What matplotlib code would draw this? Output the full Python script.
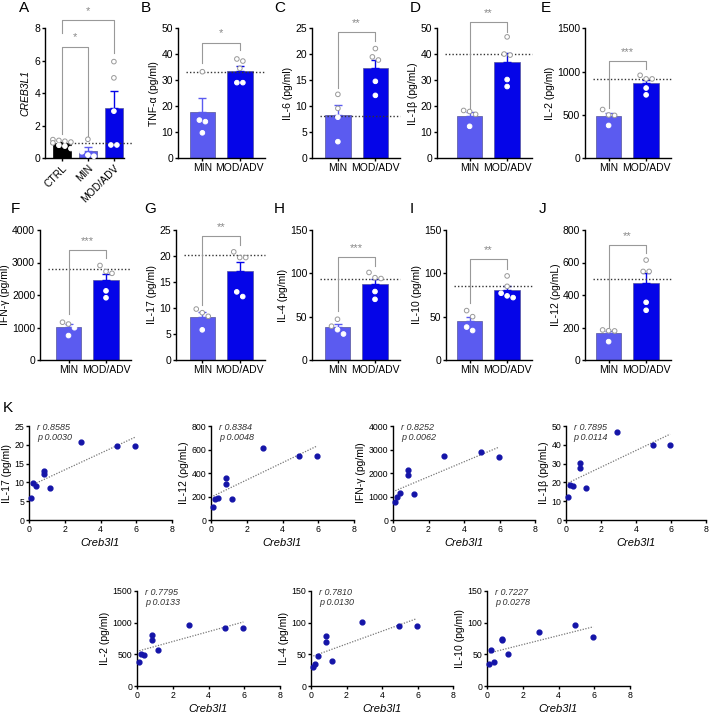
import numpy as np
import matplotlib
matplotlib.use("Agg")
import matplotlib.pyplot as plt

plt.rcParams["font.family"] = ["Liberation Sans", "DejaVu Sans"]

W, H = 709, 715

# ---- data ---------------------------------------------------------------
groups = ["MIN", "MOD/ADV"]
groups_a = ["CTRL", "MIN", "MOD/ADV"]

creb_ctrl = [1.15, 1.1, 1.05, 1.0, 0.95, 0.8, 0.75, 0.6]
creb_min = [0.13, 0.2, 0.4, 1.17]
creb_mod = [0.82, 0.82, 2.9, 4.95, 5.95]

tnf_min = [33.3, 14.7, 14.1, 9.8]
tnf_mod = [38.2, 37.4, 34.6, 29.1, 29.1]
il6_min = [12.3, 9.6, 7.9, 3.2]
il6_mod = [21.1, 19.5, 18.9, 14.8, 12.1]
il1b_min = [12.3, 18.4, 18.0, 16.9]
il1b_mod = [30.3, 27.6, 46.7, 40.1, 39.7]
il2_min = [379, 500, 495, 563]
il2_mod = [811, 732, 958, 916, 916]
ifng_min = [752, 993, 1163, 1106]
ifng_mod = [2128, 1915, 2723, 2908, 2667]
il17_min = [5.8, 9.8, 9.1, 8.4]
il17_mod = [13.1, 12.2, 20.8, 19.7, 19.7]
il4_min = [30, 35, 47, 39]
il4_mod = [79, 70, 101, 95, 94]
il10_min = [34, 57, 38, 50]
il10_mod = [74, 72, 85, 97, 77]
il12_min = [113, 179, 185, 180]
il12_mod = [355, 306, 615, 545, 545]

# dotted reference level in each bar panel
ref_level = {"B": 33.3, "C": 8.2, "D": 40, "E": 910, "F": 2800,
             "G": 20.2, "H": 93.8, "I": 85.7, "J": 500}
stars = {"B": "*", "C": "**", "D": "**", "E": "***", "F": "***",
         "G": "**", "H": "***", "I": "**", "J": "**"}

# correlation stats printed on the scatter panels
corr_r = ["0.8585", "0.8384", "0.8252", "0.7895", "0.7795", "0.7810", "0.7227"]
corr_p = ["0.0030", "0.0048", "0.0062", "0.0114", "0.0133", "0.0130", "0.0278"]

C_CTRL = "#000000"
C_MIN = "#5B5BF0"
C_MOD = "#0505E8"
C_DOT = "#1414A8"
GREY = "#999999"


def px_axes(fig, left, right, top, bottom):
    return fig.add_axes([left / W, 1 - bottom / H, (right - left) / W, (bottom - top) / H])


def style(ax, fs):
    for s in ("top", "right"):
        ax.spines[s].set_visible(False)
    for s in ("left", "bottom"):
        ax.spines[s].set_linewidth(1.0)
    ax.tick_params(direction="out", length=2.5, width=1.0, labelsize=fs, pad=1)


def swarm(vals, center, yrange, gap, maxn=4):
    vals = np.asarray(vals, float)
    order = np.argsort(-vals)
    xs = np.full(len(vals), float(center))
    grp = []
    for i in order:
        if grp and len(grp[-1]) < maxn and abs(vals[grp[-1][-1]] - vals[i]) < 0.05 * yrange:
            grp[-1].append(i)
        else:
            grp.append([i])
    for g in grp:
        n = len(g)
        xs[g] = center + (np.arange(n) - (n - 1) / 2) * gap
    return xs


def bar_panel(ax, data, colors, ymax, step, lo, hi, gap):
    for k, (vals, c) in enumerate(zip(data, colors)):
        v = np.asarray(vals, float)
        m = v.mean()
        sem = v.std(ddof=1) / np.sqrt(len(v))
        ax.bar(k, m, width=0.68, color=c, edgecolor="#55559a" if c != C_CTRL else "k",
               linewidth=0.5, zorder=2)
        ax.errorbar(k, m, yerr=[[0], [sem]], color=c, lw=1.0, capsize=3,
                    capthick=1.0, zorder=3)
        xs = swarm(v, k, ymax, gap)
        ec = [GREY if y > m else "white" for y in v]
        ax.scatter(xs, v, s=11, facecolor="white", edgecolors=ec, linewidths=0.7,
                   zorder=4, clip_on=False)
    ax.set_xlim(lo, hi)
    ax.set_ylim(0, ymax)
    ax.set_yticks(np.arange(0, ymax + step / 2, step))
    ax.spines["left"].set_bounds(0, ymax)


def bracket(ax, x0, x1, top, l0, l1, txt, ymax):
    ax.plot([x0, x0, x1, x1], [l0, top, top, l1], color=GREY, lw=0.8,
            clip_on=False, zorder=5)
    ax.text((x0 + x1) / 2, top + 0.07 * ymax, txt, ha="center", va="center",
            fontsize=8, color="#888888", clip_on=False)


fig = plt.figure(figsize=(W / 100, H / 100), dpi=100)

ROWS = [(28.3, 158.3), (230, 360)]
SP = 37.5  # px between bar centres

# ---- panel A --------------------------------------------------------------
ax = px_axes(fig, 45, 45 + (2.38 + 0.65) * 26, *ROWS[0])
style(ax, 7.5)
bar_panel(ax, [creb_ctrl, creb_min, creb_mod], [C_CTRL, C_MIN, C_MOD], 8, 2,
          -0.65, 2.38, 6 / 26)
ax.plot([-0.45, 2.7], [np.mean(creb_ctrl)] * 2, color="#333333", lw=1.0,
        ls=(0, (1, 1.5)), zorder=3, clip_on=False)
ax.set_xticks([0, 1, 2])
ax.set_xticklabels(groups_a, rotation=45, ha="right", rotation_mode="anchor")
ax.set_ylabel("CREB3L1", fontsize=7.5, style="italic", labelpad=3)
bracket(ax, 0, 1, 6.87, 1.5, 1.35, "*", 8)
bracket(ax, 0, 2, 8.5, 7.7, 6.5, "*", 8)

# ---- panels B-J -------------------------------------------------------------
bars = [
    ("B", tnf_min, tnf_mod, "TNF-α (pg/ml)", 50, 10, (44.5, 36.6, 41.6), 178, -0.65, 0),
    ("C", il6_min, il6_mod, "IL-6 (pg/ml)", 25, 5, (24.2, 13.6, 22.6), 312, -0.69, 0),
    ("D", il1b_min, il1b_mod, "IL-1β (pg/mL)", 50, 10, (52.3, 19.5, 48.4), 437, -0.87, 0),
    ("E", il2_min, il2_mod, "IL-2 (pg/ml)", 1500, 500, (1123, 581, 1026), 585, -0.63, 0),
    ("F", ifng_min, ifng_mod, "IFN-γ (pg/ml)", 4000, 1000, (3383, 1411, 3128), 40, -0.76, 1),
    ("G", il17_min, il17_mod, "IL-17 (pg/ml)", 25, 5, (23.8, 10.6, 22.1), 176, -0.7, 1),
    ("H", il4_min, il4_mod, "IL-4 (pg/ml)", 150, 50, (118.8, 56, 108), 312, -0.68, 1),
    ("I", il10_min, il10_mod, "IL-10 (pg/ml)", 150, 50, (116.5, 65.4, 104.7), 446, -0.63, 1),
    ("J", il12_min, il12_mod, "IL-12 (ρg/mL)", 800, 200, (707, 206, 656), 585, -0.63, 1),
]
hi = 1.66
for key, vmin, vmod, ylab, ymax, step, br, left, lo, row in bars:
    ax = px_axes(fig, left, left + (hi - lo) * SP, *ROWS[row])
    style(ax, 7.5)
    bar_panel(ax, [vmin, vmod], [C_MIN, C_MOD], ymax, step, lo, hi, 6 / SP)
    ax.plot([lo + 0.22, hi], [ref_level[key]] * 2, color="#333333", lw=1.0,
            ls=(0, (1, 1.5)), zorder=3, clip_on=False)
    ax.set_xticks([0, 1])
    ax.set_xticklabels(groups, fontsize=7.5)
    ax.set_ylabel(ylab, fontsize=7.5, labelpad=1.5)
    bracket(ax, 0, 1, br[0], br[1], br[2], stars[key], ymax)

letters = [("A", 24, 8), ("B", 146, 8), ("C", 280, 8), ("D", 415, 8), ("E", 546, 8),
           ("F", 15, 209), ("G", 150, 209), ("H", 279, 209), ("I", 412, 209),
           ("J", 543, 209), ("K", 8, 408)]
for t, x, y in letters:
    fig.text(x / W, 1 - y / H, t, fontsize=11, ha="center", va="center")

# ---- panel K: correlations ----------------------------------------------
creb_x = np.array(creb_min + creb_mod)
scat = [
    (il17_min, il17_mod, "IL-17 (pg/ml)", 25, 5, 29, 172, 0),
    (il12_min, il12_mod, "IL-12 (ρg/mL)", 800, 200, 211, 354, 0),
    (ifng_min, ifng_mod, "IFN-γ (pg/ml)", 4000, 1000, 393, 535, 0),
    (il1b_min, il1b_mod, "IL-1β (pg/mL)", 50, 10, 566, 706, 0),
    (il2_min, il2_mod, "IL-2 (pg/ml)", 1500, 500, 137, 280, 1),
    (il4_min, il4_mod, "IL-4 (pg/ml)", 150, 50, 311, 453, 1),
    (il10_min, il10_mod, "IL-10 (pg/ml)", 150, 50, 487, 630, 1),
]
SROWS = [(426, 520), (591, 686)]
for i, (vmin, vmod, ylab, ymax, step, l, r, row) in enumerate(scat):
    ax = px_axes(fig, l, r, *SROWS[row])
    style(ax, 6.3)
    y = np.array(vmin + vmod, float)
    ax.scatter(creb_x, y, s=12, color=C_DOT, zorder=3, clip_on=False)
    k, b = np.polyfit(creb_x, y, 1)
    xx = np.array([creb_x.min(), creb_x.max()])
    ax.plot(xx, k * xx + b, color="#777777", lw=0.9, ls=(0, (1, 1.2)), zorder=2)
    ax.set_xlim(0, 8)
    ax.set_ylim(0, ymax)
    ax.set_xticks(np.arange(0, 9, 2))
    ax.set_yticks(np.arange(0, ymax + step / 2, step))
    ax.set_ylabel(ylab, fontsize=7.5, labelpad=1.5)
    ax.set_xlabel("Creb3l1", fontsize=8, style="italic", labelpad=3)
    ax.text(0.055, 1.03, f"r {corr_r[i]}\np {corr_p[i]}", transform=ax.transAxes,
            ha="left", va="top", fontsize=6.5, style="italic", color="#333333",
            linespacing=1.1)

fig.savefig("out.png", dpi=100)
